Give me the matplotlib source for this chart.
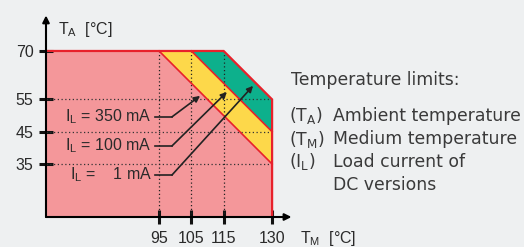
import numpy as np
import matplotlib
matplotlib.use("Agg")
import matplotlib.pyplot as plt

# derating corners (T_M, T_A)
tm_ticks = [95, 105, 115, 130]
ta_ticks = [35, 45, 55, 70]
tm_min, tm_max = 60, 136
ta_min, ta_max = 18.6, 81

red_x = [60, 60, 95, 130, 130]
red_y = [ta_min, 70, 70, 35, ta_min]
yel_x = [95, 105, 130, 130]
yel_y = [70, 70, 45, 35]
grn_x = [105, 115, 130, 130]
grn_y = [70, 70, 55, 45]

labels = ["350 mA", "100 mA", "   1 mA"]
label_y = [49.6, 40.6, 31.6]
arrow_tip_x = [107.7, 116.0, 124.1]
arrow_tip_y = [56.1, 57.3, 59.2]

bg = "#eef0f1"
c_red = "#f4979a"
c_yel = "#fdd84a"
c_grn = "#0db08c"
c_edge = "#e8212b"

W, H = 524, 247
fig = plt.figure(figsize=(W / 100, H / 100), dpi=100, facecolor=bg)
x0, y0 = 46, 217
sx = 3.23
ax = fig.add_axes([x0 / W, (H - y0) / H,
                   (tm_max - tm_min) * sx / W, (ta_max - ta_min) * sx / H])
ax.set_facecolor(bg)
ax.set_xlim(tm_min, tm_max)
ax.set_ylim(ta_min, ta_max)

ax.fill(red_x, red_y, color=c_red, lw=0)
ax.fill(yel_x, yel_y, color=c_yel, lw=0)
ax.fill(grn_x, grn_y, color=c_grn, lw=0)

# red boundaries
ax.plot([60, 115, 130, 130], [70, 70, 55, ta_min], color=c_edge, lw=1.6,
        solid_joinstyle="miter", zorder=3)
ax.plot([95, 130], [70, 35], color=c_edge, lw=1.2, zorder=3)
ax.plot([105, 130], [70, 45], color=c_edge, lw=1.2, zorder=3)

# dotted guides
for t in [55, 45, 35]:
    ax.plot([tm_min, 130], [t, t], color="#333333", lw=0.9, ls=(0, (1, 2)), zorder=2)
for t in [95, 105, 115]:
    ax.plot([t, t], [ta_min, 70], color="#222222", lw=0.9, ls=(0, (1, 2)), zorder=2)

# axes with arrows
for s in ax.spines.values():
    s.set_visible(False)
ax.annotate("", xy=(tm_max, ta_min), xytext=(tm_min, ta_min),
            arrowprops=dict(arrowstyle="-|>", color="black", lw=1.5,
                            mutation_scale=10, shrinkA=0, shrinkB=0),
            annotation_clip=False, zorder=4)
ax.annotate("", xy=(tm_min, ta_max), xytext=(tm_min, ta_min),
            arrowprops=dict(arrowstyle="-|>", color="black", lw=1.5,
                            mutation_scale=10, shrinkA=0, shrinkB=0),
            annotation_clip=False, zorder=4)

tfont = dict(family=["Liberation Sans", "DejaVu Sans"], size=11.5, color="#2a2a2a")
ax.set_xticks(tm_ticks)
ax.set_yticks(ta_ticks)
ax.set_xticklabels([str(t) for t in tm_ticks], **tfont)
ax.set_yticklabels([str(t) for t in ta_ticks], **tfont)
ax.tick_params(axis="both", direction="inout", length=10, width=2.2,
               color="#111111")
ax.tick_params(axis="x", pad=5)
ax.tick_params(axis="y", pad=4)

ax.text(tm_min + 3.6, 76.5, r"T$_\mathregular{A}$  [°C]", ha="left", va="center",
        **tfont)
ax.text(tm_max + 2.5, ta_min - 3.6, r"T$_\mathregular{M}$  [°C]", ha="left",
        va="top", **tfont)

for lab, ly, tx, ty in zip(labels, label_y, arrow_tip_x, arrow_tip_y):
    ax.text(92.8, ly, r"I$_\mathregular{L}$ = " + lab, ha="right", va="center",
            **tfont)
    ax.plot([93.7, 99.0], [ly, ly], color="#222222", lw=1.2, zorder=5)
    ax.annotate("", xy=(tx, ty), xytext=(99.0, ly),
                arrowprops=dict(arrowstyle="-|>", color="#222222", lw=1.2,
                                mutation_scale=9, shrinkA=0, shrinkB=0),
                zorder=5)

rfont = dict(family=["DejaVu Sans"], size=12.4, color="#3a3a3a")
fig.text(291 / W, 1 - 80 / H, "Temperature limits:", ha="left", va="center", **rfont)
rows = [(r"(T$_\mathregular{A}$)", "Ambient temperature"),
        (r"(T$_\mathregular{M}$)", "Medium temperature"),
        (r"(I$_\mathregular{L}$)", "Load current of"),
        ("", "DC versions")]
for i, (a, b) in enumerate(rows):
    yy = 1 - (116 + 23 * i) / H
    fig.text(289 / W, yy, a, ha="left", va="center", **rfont)
    fig.text(333 / W, yy, b, ha="left", va="center", **rfont)

fig.savefig("out.png", dpi=100, facecolor=bg)
